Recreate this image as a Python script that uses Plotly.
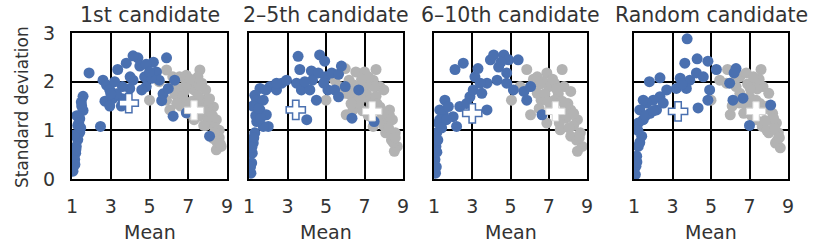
import plotly.graph_objects as go

titles = ["1st candidate", "2\u20135th candidate", "6\u201310th candidate", "Random candidate"]
x_ticks = [1, 3, 5, 7, 9]
y_ticks = [0, 1, 2, 3]
x_title = "Mean"
y_title = "Standard deviation"

# Panel 1 (1st candidate)
p1_blue_x = [1.57, 1.48, 1.57, 1.4, 1.3, 1.4, 1.3, 1.22, 1.19, 1.14, 1.09, 1.05, 1.25, 1.35, 1.5, 1.1,
             1.88, 2.47, 2.6, 2.78, 2.95, 2.7, 3.1, 3.36, 3.8, 3.55, 3.98, 4.15, 4.4, 4.5, 4.75, 4.83,
             5.2, 5.36, 5.5, 5.88, 5.7, 5.97, 6.22, 5.63, 6.9, 8.1, 6.3, 5.1, 4.6, 3.6, 3.2, 3.6, 2.95,
             4.15, 4.83, 3.3, 3.0, 4.0, 5.0, 1.45, 1.2, 1.15]
p1_blue_y = [1.7, 1.58, 1.41, 1.24, 1.1, 0.96, 0.81, 0.67, 0.53, 0.4, 0.26, 0.16, 1.3, 1.15, 1.5, 0.9,
             2.18, 1.08, 2.03, 1.93, 1.83, 1.6, 1.65, 2.25, 2.38, 1.5, 1.86, 2.03, 2.49, 2.32, 2.1, 1.9,
             2.4, 2.2, 2.03, 2.49, 1.75, 1.86, 1.29, 1.61, 1.36, 0.88, 2.03, 2.07, 1.83, 1.9, 2.0, 1.65, 1.5,
             2.53, 2.36, 1.75, 1.75, 2.1, 2.2, 1.05, 0.6, 0.3]
p1_gray_x = [5.0, 5.88, 5.5, 6.55, 6.9, 7.6, 7.7, 7.3, 6.45, 6.76, 7.1, 7.8, 8.1, 8.3, 8.45, 8.6, 8.55,
             8.7, 8.45, 8.3, 7.9, 7.6, 7.3, 7.4, 6.22, 6.05, 5.88, 7.9, 7.2, 6.55, 7.0, 7.5, 8.0, 8.2,
             8.4, 8.6, 6.8, 7.2, 7.7, 8.0, 6.3, 6.9, 7.5, 8.1, 8.5, 7.0, 6.6, 7.8,
             6.2, 6.7, 7.4, 7.85, 8.25, 8.65, 7.1, 7.65, 6.9, 8.35, 6.4, 7.25]
p1_gray_y = [1.62, 2.24, 2.0, 2.1, 2.13, 2.24, 1.97, 1.83, 1.69, 1.62, 1.48, 1.62, 1.36, 1.48, 1.22, 1.0,
             0.83, 0.67, 0.6, 0.83, 1.1, 1.29, 1.22, 1.43, 1.9, 1.42, 1.62, 1.83, 1.97, 1.86, 1.9, 1.7,
             1.5, 1.2, 1.05, 0.85, 1.8, 1.6, 1.45, 1.25, 1.75, 1.95, 2.1, 1.65, 0.75, 1.35, 1.5, 1.1,
             2.1, 1.7, 1.55, 1.4, 1.3, 0.72, 2.05, 1.9, 1.45, 0.95, 1.55, 1.35]
p1_mean_x = [3.93, 7.3]
p1_mean_y = [1.56, 1.41]

# Panel 2 (2-5th candidate)
p2_blue_x = [1.57, 1.3, 1.4, 1.74, 1.57, 1.9, 2.0, 1.74, 1.4, 1.3, 1.22, 1.17, 1.14, 1.1, 2.09, 2.43,
             2.7, 2.95, 2.43, 1.88, 3.55, 3.64, 3.47, 3.72, 4.0, 4.24, 4.16, 4.67, 4.93, 4.6, 4.5, 4.3,
             4.97, 5.3, 5.65, 5.8, 5.1, 5.45, 5.65, 6.0, 6.35, 6.7, 7.5, 4.88, 1.2, 1.35, 1.6, 1.25, 3.9,
             1.15, 1.08, 1.5]
p2_blue_y = [1.86, 1.72, 1.62, 1.62, 1.42, 1.32, 1.08, 1.08, 1.18, 0.95, 0.74, 0.53, 0.33, 0.12, 1.9, 1.83,
             1.97, 2.03, 1.97, 1.83, 2.52, 2.25, 1.97, 1.83, 1.22, 2.22, 1.83, 2.55, 2.42, 2.18, 1.62, 2.03,
             2.1, 2.18, 2.15, 2.32, 1.83, 1.83, 1.69, 1.9, 1.25, 1.83, 1.18, 1.97, 1.5, 1.3, 1.25, 0.85, 2.0,
             0.65, 0.25, 1.45]
p2_gray_x = [5.0, 5.45, 6.0, 6.2, 6.55, 7.0, 7.6, 7.8, 7.45, 7.1, 6.05, 6.4, 6.55, 6.7, 7.8, 8.3, 8.45,
             8.6, 8.7, 8.55, 8.1, 7.8, 7.45, 8.0, 6.45, 6.0, 7.3, 7.0, 7.6, 8.2, 8.4, 6.9, 7.2, 8.0, 5.7,
             7.5, 8.3, 8.5, 7.2, 6.6,
             6.3, 6.8, 7.1, 7.65, 7.95, 8.25, 8.6, 6.85, 7.35, 6.2]
p2_gray_y = [1.62, 2.03, 2.27, 2.03, 2.2, 2.2, 2.25, 1.9, 2.03, 1.76, 1.32, 1.42, 1.69, 1.55, 1.48, 1.42, 1.22,
             0.95, 0.67, 0.57, 0.95, 1.22, 1.08, 1.83, 1.93, 1.76, 1.62, 1.95, 1.7, 1.2, 0.8, 1.4, 1.3, 1.1, 1.9,
             1.9, 1.3, 0.75, 2.1, 1.85,
             1.55, 1.65, 1.95, 1.55, 1.35, 1.05, 0.85, 2.05, 1.5, 1.75]
p2_mean_x = [3.43, 7.4]
p2_mean_y = [1.42, 1.39]

# Panel 3 (6-10th candidate)
p3_blue_x = [2.1, 2.53, 1.57, 1.3, 1.48, 1.75, 2.0, 2.18, 2.35, 1.23, 1.14, 1.1, 1.05, 1.08, 1.3, 1.65,
             2.88, 3.05, 3.14, 3.3, 3.5, 3.77, 3.77, 3.95, 4.12, 4.38, 4.3, 4.65, 4.9, 4.8, 4.8, 5.4,
             5.15, 5.7, 5.85, 6.65, 6.05, 3.42, 1.2, 1.15, 2.7, 4.5, 1.12, 1.4]
p3_blue_y = [2.25, 2.38, 1.62, 1.42, 1.35, 1.49, 1.28, 1.08, 1.49, 1.15, 0.95, 0.67, 0.4, 0.12, 1.22, 1.22,
             1.69, 1.83, 2.1, 2.27, 1.76, 1.42, 1.97, 2.45, 2.55, 2.3, 2.03, 2.55, 2.45, 2.18, 1.97, 2.45,
             1.83, 1.8, 1.62, 1.32, 1.9, 1.97, 0.8, 0.55, 1.55, 2.4, 0.25, 1.05]
p3_gray_x = [5.05, 5.85, 5.5, 6.05, 6.4, 6.9, 7.7, 7.8, 7.3, 8.15, 6.05, 6.6, 7.1, 6.9, 7.6, 8.15, 8.5,
             8.65, 8.75, 8.5, 8.15, 7.6, 7.3, 6.4, 7.0, 7.5, 8.0, 8.3, 8.45, 6.7, 7.9, 7.2, 8.0, 6.5, 7.7,
             6.2, 6.8, 7.4, 7.85, 8.3, 8.6, 6.95, 7.55, 8.05, 6.55]
p3_gray_y = [1.62, 2.25, 1.9, 1.9, 2.1, 2.18, 2.25, 1.9, 1.97, 1.8, 1.32, 1.62, 1.48, 1.15, 1.29, 1.42, 1.22,
             0.95, 0.67, 0.57, 0.88, 1.01, 1.62, 1.76, 1.9, 1.75, 1.55, 1.1, 0.8, 2.0, 1.25, 2.05, 1.3, 1.45, 1.6,
             2.05, 1.75, 1.85, 1.5, 1.35, 0.85, 1.6, 1.15, 1.05, 1.95]
p3_mean_x = [3.0, 7.35]
p3_mean_y = [1.35, 1.39]

# Panel 4 (Random candidate)
p4_blue_x = [3.76, 1.8, 2.35, 3.64, 4.28, 4.84, 5.28, 3.4, 3.9, 4.24, 4.6, 3.2, 3.72, 2.7, 2.35, 2.0,
             1.66, 1.48, 1.3, 1.83, 2.17, 2.52, 1.48, 1.22, 1.4, 1.22, 1.14, 1.1, 1.07, 4.33, 4.93,
             4.84, 5.97, 6.3, 6.66, 6.14, 7.0, 8.1, 6.2, 1.2, 1.6, 2.0, 3.5, 1.3, 1.15]
p4_blue_y = [2.88, 2.0, 2.08, 2.38, 2.47, 2.42, 2.25, 2.07, 2.03, 2.18, 2.1, 1.86, 1.86, 1.83, 1.69, 1.62,
             1.56, 1.62, 1.42, 1.35, 1.42, 1.56, 1.22, 1.15, 0.88, 0.67, 0.47, 0.26, 0.09, 1.46, 1.83,
             1.62, 1.97, 2.27, 1.66, 1.62, 1.1, 1.52, 2.18, 1.0, 1.3, 1.4, 1.95, 0.75, 0.35]
p4_gray_x = [5.0, 5.86, 5.45, 5.8, 6.5, 6.83, 7.6, 7.7, 7.2, 8.0, 6.0, 6.5, 7.0, 7.34, 7.7, 8.2, 8.4,
             8.5, 8.6, 8.35, 8.0, 7.66, 7.0, 6.5, 7.34, 6.9, 7.4, 8.1, 6.2, 7.9, 7.5, 8.3, 6.7, 7.1, 8.45,
             6.1, 6.75, 7.2, 7.55, 7.95, 8.25, 8.55, 6.3, 7.05, 7.8]
p4_gray_y = [1.62, 2.25, 2.03, 1.97, 2.1, 2.18, 2.25, 1.9, 1.97, 1.76, 1.32, 1.56, 1.49, 1.22, 1.42, 1.35, 1.15,
             0.95, 0.64, 0.74, 0.95, 1.08, 1.69, 1.76, 1.62, 1.95, 1.85, 1.2, 2.0, 1.0, 2.05, 1.05, 1.35, 1.3, 0.8,
             1.5, 1.55, 2.1, 1.55, 1.5, 1.25, 0.85, 1.9, 1.85, 1.2]
p4_mean_x = [3.29, 7.34]
p4_mean_y = [1.39, 1.39]

panels = [
    (p1_blue_x, p1_blue_y, p1_gray_x, p1_gray_y, p1_mean_x, p1_mean_y),
    (p2_blue_x, p2_blue_y, p2_gray_x, p2_gray_y, p2_mean_x, p2_mean_y),
    (p3_blue_x, p3_blue_y, p3_gray_x, p3_gray_y, p3_mean_x, p3_mean_y),
    (p4_blue_x, p4_blue_y, p4_gray_x, p4_gray_y, p4_mean_x, p4_mean_y),
]

BLUE = "#4a70b0"
GRAY = "#b3b3b3"
TXT = "#333333"
FONT = "DejaVu Sans"
W, H = 830, 243
x_px = [(72, 227), (249, 403), (434, 587), (634, 788)]
y_top, y_bot = 33, 179

fig = go.Figure()
layout = dict(width=W, height=H, margin=dict(l=0, r=0, t=0, b=0, autoexpand=False),
              paper_bgcolor="white", plot_bgcolor="white", showlegend=False,
              font=dict(family=FONT, color=TXT))
ann = []
for i, (bx, by, gx, gy, mx, my) in enumerate(panels):
    xa = "x" if i == 0 else f"x{i+1}"
    ya = "y" if i == 0 else f"y{i+1}"
    fig.add_trace(go.Scatter(x=gx, y=gy, mode="markers", xaxis=xa, yaxis=ya,
                             marker=dict(color=GRAY, size=11, line=dict(width=0))))
    fig.add_trace(go.Scatter(x=bx, y=by, mode="markers", xaxis=xa, yaxis=ya,
                             marker=dict(color=BLUE, size=11, line=dict(width=0))))
    fig.add_trace(go.Scatter(x=[mx[0]], y=[my[0]], mode="markers", xaxis=xa, yaxis=ya,
                             marker=dict(symbol="cross", color="white", size=16,
                                         line=dict(color=BLUE, width=1.5))))
    fig.add_trace(go.Scatter(x=[mx[1]], y=[my[1]], mode="markers", xaxis=xa, yaxis=ya,
                             marker=dict(symbol="cross", color="white", size=16,
                                         line=dict(color="#d6d6d6", width=1))))
    x0, x1 = x_px[i]
    xkey = "xaxis" if i == 0 else f"xaxis{i+1}"
    ykey = "yaxis" if i == 0 else f"yaxis{i+1}"
    layout[xkey] = dict(domain=[x0 / W, x1 / W], range=[1, 9], tickvals=x_ticks,
                        showgrid=True, gridcolor="black", gridwidth=1.5,
                        showline=True, linecolor="black", linewidth=2, mirror=True,
                        zeroline=False, ticks="", ticklabelstandoff=9, automargin=False,
                        tickfont=dict(size=19, color=TXT, family=FONT), anchor=ya)
    layout[ykey] = dict(domain=[1 - y_bot / H, 1 - y_top / H], range=[0, 3], tickvals=y_ticks,
                        showgrid=True, gridcolor="black", gridwidth=1.5,
                        showline=True, linecolor="black", linewidth=2, mirror=True,
                        zeroline=False, ticks="", showticklabels=(i == 0), automargin=False,
                        ticklabelstandoff=11,
                        tickfont=dict(size=19, color=TXT, family=FONT), anchor=xa)
    ann.append(dict(text=titles[i], x=(x0 + x1) / 2 / W, y=1 - 15 / H, xref="paper", yref="paper",
                    showarrow=False, xanchor="center", yanchor="middle",
                    font=dict(size=20.5, color=TXT, family=FONT)))
    ann.append(dict(text=x_title, x=(x0 + x1) / 2 / W, y=1 - 232 / H, xref="paper", yref="paper",
                    showarrow=False, xanchor="center", yanchor="middle",
                    font=dict(size=19, color=TXT, family=FONT)))

ann.append(dict(text=y_title, x=22 / W, y=1 - 107 / H, xref="paper", yref="paper", textangle=-90,
                showarrow=False, xanchor="center", yanchor="middle",
                font=dict(size=17, color=TXT, family=FONT)))
layout["annotations"] = ann
fig.update_layout(**layout)
fig.write_html("out.html", config={"displayModeBar": False},
               post_script="document.body.style.margin='0';")
